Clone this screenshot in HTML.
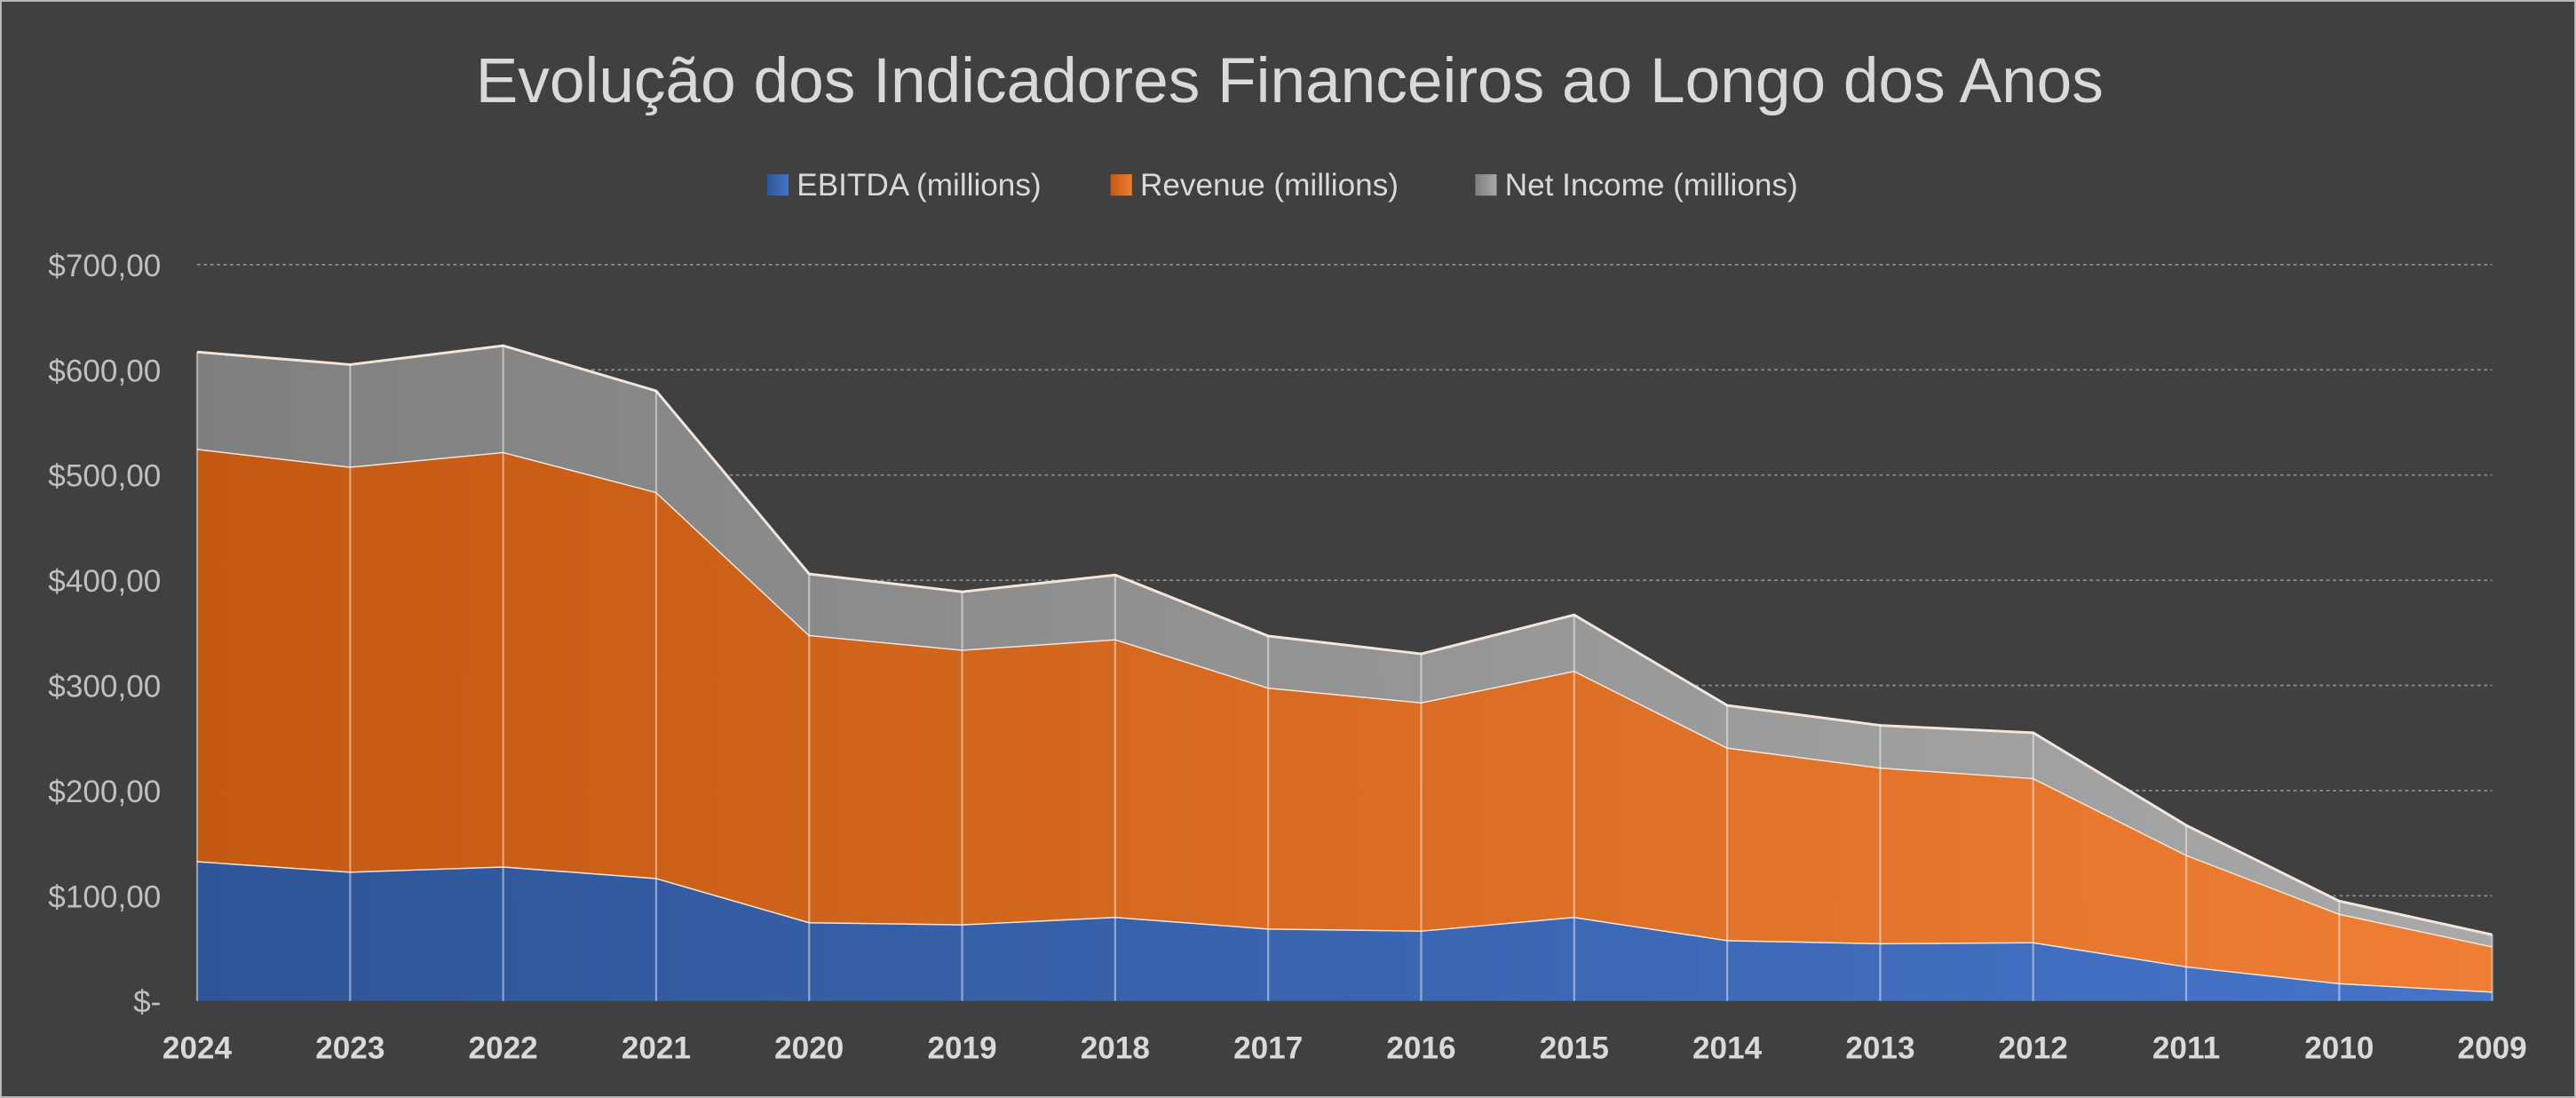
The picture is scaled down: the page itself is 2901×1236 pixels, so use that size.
<!DOCTYPE html>
<html><head><meta charset="utf-8"><style>
html,body{margin:0;padding:0;background:#404040;}
svg{display:block;font-family:"Liberation Sans",sans-serif;}
</style></head><body>
<svg id="chart" width="2901" height="1236" viewBox="0 0 1568 668" xmlns="http://www.w3.org/2000/svg">
<defs>
<linearGradient id="gB" x1="0" x2="1"><stop offset="0" stop-color="#2e5597"/><stop offset="1" stop-color="#4674c8"/></linearGradient>
<linearGradient id="gO" x1="0" x2="1"><stop offset="0" stop-color="#c45911"/><stop offset="1" stop-color="#ef7e34"/></linearGradient>
<linearGradient id="gG" x1="0" x2="1"><stop offset="0" stop-color="#7f7f7f"/><stop offset="1" stop-color="#a9a9a9"/></linearGradient>
</defs>
<rect x="0.5" y="0.5" width="1567" height="667" fill="#404040" stroke="#bfbfbf" stroke-width="1"/>
<text x="785" y="62" text-anchor="middle" font-size="38.5" fill="#d9d9d9">Evolução dos Indicadores Financeiros ao Longo dos Anos</text>
<g id="legend" font-size="19" fill="#d9d9d9">
<g><rect x="467" y="106" width="13" height="13" fill="url(#gB)"/><text x="485" y="119">EBITDA (millions)</text></g>
<g><rect x="676" y="106" width="13" height="13" fill="url(#gO)"/><text x="694" y="119">Revenue (millions)</text></g>
<g><rect x="898" y="106" width="13" height="13" fill="url(#gG)"/><text x="916" y="119">Net Income (millions)</text></g>
</g>
<g id="grid"></g><g id="areas"></g><g id="axes"></g>
</svg>
<script>
const categories=["2024","2023","2022","2021","2020","2019","2018","2017","2016","2015","2014","2013","2012","2011","2010","2009"];
const ebitda=[133,123,128,117,75,73,80,69,67,80,58,55,56,33,17,9];
const revenue=[392,385,394,367,273,261,264,229,217,234,183,167,156,106,66,43];
const netIncome=[92,97,101,96,58,55,61,49,46,53,40,40,43,28,12,11];
const yTicks=[0,100,200,300,400,500,600,700];
const yTickLabels=["$-","$100,00","$200,00","$300,00","$400,00","$500,00","$600,00","$700,00"];
const NS="http://www.w3.org/2000/svg";
const x0=120,x1=1517,y0=609,y1=161,yMax=700;
const xs=i=>x0+i*(x1-x0)/(categories.length-1);
const ys=v=>y0-v*(y0-y1)/yMax;
function mk(t,a,p){const e=document.createElementNS(NS,t);for(const k in a)e.setAttribute(k,a[k]);p.appendChild(e);return e;}
const grid=document.getElementById('grid'),areas=document.getElementById('areas'),axes=document.getElementById('axes');
yTicks.forEach((v,i)=>{
 if(v>0){const l=mk('line',{x1:x0,x2:x1,y1:ys(v),y2:ys(v),stroke:'#8a8a8a','stroke-width':1,'stroke-dasharray':'2,2'},grid);
 
 }
 const t=mk('text',{x:98,y:ys(v)+7,'text-anchor':'end','font-size':19,fill:'#bfbfbf'},axes);t.textContent=yTickLabels[i];
 
 
});
const series=[[ebitda,'url(#gB)','ebitda'],[revenue,'url(#gO)','revenue'],[netIncome,'url(#gG)','net-income']];
let base=categories.map(()=>0);
series.forEach(([vals,fill,name])=>{
 const top=base.map((b,i)=>b+vals[i]);
 let d='M'+categories.map((c,i)=>xs(i)+','+ys(top[i])).join(' L');
 for(let i=categories.length-1;i>=0;i--)d+=' L'+xs(i)+','+ys(base[i]);
 const p=mk('path',{d:d+'Z',fill:fill},areas);
 
 
 const ln=mk('polyline',{points:categories.map((c,i)=>xs(i)+','+ys(top[i])).join(' '),fill:'none',stroke:'#f2e6dc','stroke-width':1.6},areas);
 
 
 base=top;
});
categories.forEach((c,i)=>{
 const l=mk('line',{x1:xs(i),x2:xs(i),y1:ys(base[i]),y2:y0,stroke:'#ffffff','stroke-opacity':0.45,'stroke-width':1.2},areas);
 
 
 const t=mk('text',{x:xs(i),y:644,'text-anchor':'middle','font-size':19,'font-weight':'bold',fill:'#d9d9d9'},axes);t.textContent=c;
 
 
});
</script>
</body></html>
